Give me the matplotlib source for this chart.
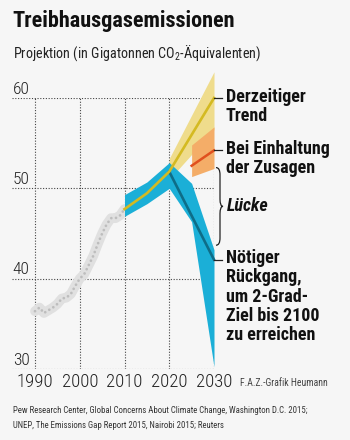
import matplotlib
matplotlib.use("Agg")
import matplotlib.pyplot as plt
from matplotlib import font_manager
from matplotlib.path import Path
from matplotlib.patches import PathPatch


def pick_font(names):
    for n in names:
        try:
            font_manager.findfont(font_manager.FontProperties(family=n),
                                  fallback_to_default=False)
            return n
        except ValueError:
            continue
    return 'DejaVu Sans'


FONT = pick_font(['Roboto Condensed', 'Open Sans Condensed',
                  'Liberation Sans Narrow', 'Roboto'])
plt.rcParams['font.family'] = [FONT, 'DejaVu Sans']
plt.rcParams['mathtext.default'] = 'regular'

# historical emissions (Gt CO2-eq)
hist_years = list(range(1990, 2011))
hist_vals = [36.4, 36.8, 36.2, 36.5, 36.8, 37.2, 37.8, 37.9, 38.3, 39.2, 40.0,
             40.5, 41.5, 42.5, 43.8, 45.0, 46.0, 46.7, 46.7, 47.0, 47.7]

# current trend
trend_years = [2010, 2015, 2020, 2030]
trend_vals = [47.7, 49.45, 51.85, 60.0]
trend_band_years = [2020, 2030]
trend_low = [51.0, 56.5]
trend_high = [53.3, 62.9]

# pledges
pledge_years = [2025, 2030]
pledge_vals = [52.5, 54.2]
pledge_low = [51.3, 52.2]
pledge_high = [54.8, 56.8]

# needed path for 2 degree target
need_band_years = [2010, 2015, 2020, 2025, 2030]
need_low = [46.9, 48.3, 50.0, 46.3, 30.25]
need_high = [49.3, 50.7, 52.85, 50.55, 43.2]
need_years = [2020, 2030]
need_vals = [51.85, 42.1]

x_ticks = [1990, 2000, 2010, 2020, 2030]
y_ticks = [30, 40, 50, 60]

W, H = 350, 440
fig = plt.figure(figsize=(W / 100, H / 100), dpi=100, facecolor='#f6f6f6')
ax = fig.add_axes([12 / W, 1 - 369 / H, 202 / W, 271 / H])
ax.set_xlim(1990 - 23 / 4.475, 2030)
ax.set_ylim(30, 60)
ax.axis('off')

grid_kw = dict(color='#444444', lw=0.8, linestyles=(0, (1, 1.5)), zorder=1)
ax.hlines(y_ticks, ax.get_xlim()[0], 2030, **grid_kw)
ax.vlines(x_ticks, 30, 60, **grid_kw)

for v in y_ticks:
    ax.annotate(str(v), xy=(0, v), xycoords=('axes fraction', 'data'),
                xytext=(0.5, 1.0), textcoords='offset points',
                ha='left', va='bottom', fontsize=12.5, fontweight='light',
                color='#222222')
for yr in x_ticks:
    ax.annotate(str(yr), xy=(yr, 0), xycoords=('data', 'axes fraction'),
                xytext=(0, -3), textcoords='offset points',
                ha='center', va='top', fontsize=13.5, fontweight='light',
                color='#222222')

# history: light gray band with dots
ax.plot(hist_years, hist_vals, color='#e0e0e0', lw=7,
        solid_capstyle='round', solid_joinstyle='round', zorder=3)
ax.plot(hist_years, hist_vals, color='#bdbdbd', lw=2.0,
        linestyle=(0, (0.01, 1.7)), dash_capstyle='round', zorder=4)

# bands
ax.fill_between(trend_band_years, trend_low, trend_high, color='#efdc8c',
                lw=0, zorder=2, clip_on=False)
ax.fill_between(pledge_years, pledge_low, pledge_high, color='#f4ad68',
                lw=0, zorder=3, clip_on=False)
ax.plot(pledge_years, pledge_vals, color='#e0501e', lw=1.8, zorder=4,
        clip_on=False)
ax.fill_between(need_band_years, need_low, need_high, color='#1bafd7',
                lw=0, zorder=5, clip_on=False)
ax.plot(need_years, need_vals, color='#0e6d88', lw=1.9, zorder=6,
        clip_on=False)
ax.plot(trend_years, trend_vals, color='#d4ba22', lw=1.9, zorder=7,
        clip_on=False)

# labels on the right
px = 4.475  # pixels per year
lbl_x = 2030 + 12 / px
for yv, txt in [(trend_vals[-1], 'Derzeitiger\nTrend'),
                (pledge_vals[-1], 'Bei Einhaltung\nder Zusagen'),
                (need_vals[-1], 'Nötiger\nRückgang,\num 2-Grad-\nZiel bis 2100\nzu erreichen')]:
    ax.plot([2030, 2030 + 8 / px], [yv, yv], color='#222222', lw=0.9,
            clip_on=False, zorder=8)
    ax.annotate(txt, xy=(lbl_x, yv), xycoords='data', xytext=(0, 7.5),
                textcoords='offset points', ha='left', va='top',
                fontsize=13, fontweight='bold', color='#111111',
                linespacing=1.08, annotation_clip=False)

# brace for the gap
top, bot = pledge_low[-1] + 0.1, need_high[-1] + 0.5
mid = (top + bot) / 2
x0 = 2030 + 2 / px
x1 = 2030 + 6 / px
x2 = 2030 + 9 / px
d = 0.8
verts = [(x0, top), (x1, top), (x1, top - d),
         (x1, mid + d), (x1, mid), (x2, mid),
         (x1, mid), (x1, mid - d),
         (x1, bot + d), (x1, bot), (x0, bot)]
codes = [Path.MOVETO, Path.CURVE3, Path.CURVE3,
         Path.LINETO, Path.CURVE3, Path.CURVE3,
         Path.CURVE3, Path.CURVE3,
         Path.LINETO, Path.CURVE3, Path.CURVE3]
ax.add_patch(PathPatch(Path(verts, codes), fill=False, lw=0.9,
                       edgecolor='#222222', clip_on=False, zorder=8))
ax.text(2030 + 13 / px, mid, 'Lücke', ha='left', va='center', fontsize=13,
        fontweight='bold', fontstyle='italic', color='#111111')

fig.text(12 / W, 1 - 10 / H, 'Treibhausgasemissionen', ha='left', va='top',
         fontsize=16, fontweight='bold', color='#111111')
fig.text(13 / W, 1 - 43 / H, 'Projektion (in Gigatonnen CO$_2$-Äquivalenten)',
         ha='left', va='top', fontsize=10.2, color='#222222')
fig.text(240 / W, 1 - 383 / H, 'F.A.Z.-Grafik Heumann', ha='left',
         va='center', fontsize=7, color='#444444')
fig.text(13 / W, 1 - 410 / H,
         'Pew Research Center, Global Concerns About Climate Change, Washington D.C. 2015;',
         ha='left', va='center', fontsize=6.3, color='#333333')
fig.text(13 / W, 1 - 425 / H,
         'UNEP, The Emissions Gap Report 2015, Nairobi 2015; Reuters',
         ha='left', va='center', fontsize=6.3, color='#333333')

fig.savefig('out.png', dpi=100, facecolor=fig.get_facecolor())
